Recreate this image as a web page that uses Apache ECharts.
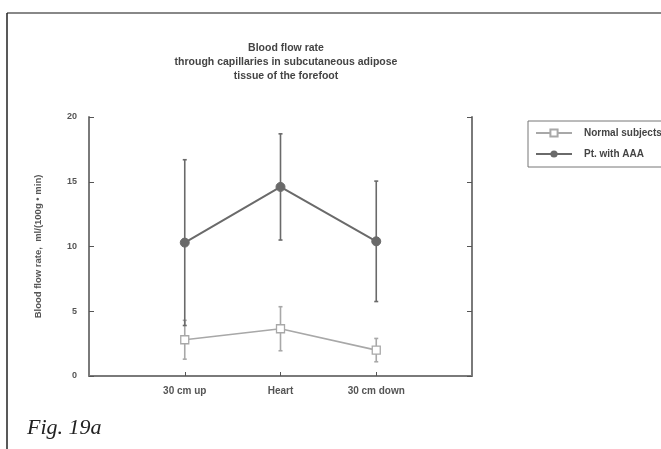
<!DOCTYPE html>
<html><head><meta charset="utf-8">
<script src="https://cdn.jsdelivr.net/npm/echarts@6/dist/echarts.min.js"></script>
<style>html,body{margin:0;padding:0;background:#fff}#c{width:661px;height:449px}</style>
</head><body><div id="c"></div>
<script>
const categories = ['30 cm up', 'Heart', '30 cm down'];
const normalMean = [2.8, 3.65, 2.0];
const normalErr = [1.5, 1.7, 0.9];
const aaaMean = [10.3, 14.6, 10.4];
const aaaErr = [6.4, 4.1, 4.65];
const yTicks = [0, 5, 10, 15, 20];
const seriesNames = ['Normal subjects', 'Pt. with AAA'];
const titleLines = ['Blood flow rate', 'through capillaries in subcutaneous adipose', 'tissue of the forefoot'];

const axisCats = [''].concat(categories, ['']);
const lightC = '#a8a8a8', darkC = '#6a6a6a', axisC = '#7a7a7a';

function errSeries(mean, err, color) {
  return {
    type: 'custom', silent: true, z: 1,
    data: mean.map((m, i) => [i + 1, m - err[i], m + err[i]]),
    renderItem: function (params, api) {
      const x = api.value(0);
      const lo = api.coord([x, api.value(1)]);
      const hi = api.coord([x, api.value(2)]);
      const w = 2;
      const st = { stroke: color, lineWidth: 1.6 };
      return { type: 'group', children: [
        { type: 'line', shape: { x1: lo[0], y1: lo[1], x2: hi[0], y2: hi[1] }, style: st },
        { type: 'line', shape: { x1: lo[0] - w, y1: lo[1], x2: lo[0] + w, y2: lo[1] }, style: st },
        { type: 'line', shape: { x1: hi[0] - w, y1: hi[1], x2: hi[0] + w, y2: hi[1] }, style: st }
      ]};
    }
  };
}

const chart = echarts.init(document.getElementById('c'));
chart.setOption({
  animation: false,
  title: {
    text: titleLines.join('\n'), left: 281, top: 36, textAlign: 'center',
    textStyle: { fontFamily: 'Liberation Sans', fontSize: 10.5, fontWeight: 'bold', color: '#444', lineHeight: 14 }
  },
  legend: {
    left: 528, top: 121, orient: 'vertical', itemGap: 11,
    padding: [7, 10, 8, 7], borderColor: '#777', borderWidth: 1,
    itemWidth: 36, itemHeight: 9,
    textStyle: { fontFamily: 'Liberation Sans', fontSize: 10, fontWeight: 'bold', color: '#444', padding: [0, 0, 0, 7] },
    data: seriesNames
  },
  grid: { left: 89, right: 189, top: 117, bottom: 73 },
  xAxis: {
    type: 'category', data: axisCats, boundaryGap: false,
    axisLine: { lineStyle: { color: axisC, width: 2 } },
    axisTick: { inside: true, length: 4, interval: (i, v) => v !== '', lineStyle: { color: '#555' } },
    axisLabel: { interval: 0, margin: 10, fontFamily: 'Liberation Sans', fontSize: 10, fontWeight: 'bold', color: '#555' },
    splitLine: { show: false }
  },
  yAxis: [{
    type: 'value', min: 0, max: 20, interval: 5, position: 'left',
    name: 'Blood flow rate,  ml/(100g • min)', nameLocation: 'middle', nameGap: 46,
    nameTextStyle: { fontFamily: 'Liberation Sans', fontSize: 9.5, fontWeight: 'bold', color: '#555' },
    axisLine: { show: true, lineStyle: { color: axisC, width: 2 } },
    axisTick: { show: true, inside: true, length: 5, lineStyle: { color: '#555' } },
    axisLabel: { margin: 12, fontFamily: 'Liberation Sans', fontSize: 9, fontWeight: 'bold', color: '#555',
      formatter: v => yTicks.includes(v) ? String(v) : '' },
    splitLine: { show: false }
  }, {
    type: 'value', min: 0, max: 20, interval: 5, position: 'right',
    axisLine: { show: true, lineStyle: { color: axisC, width: 2 } },
    axisTick: { show: true, inside: true, length: 5, lineStyle: { color: '#555' } },
    axisLabel: { show: false }, splitLine: { show: false }
  }],
  series: [
    errSeries(normalMean, normalErr, lightC),
    errSeries(aaaMean, aaaErr, darkC),
    {
      name: seriesNames[0], type: 'line', z: 3,
      data: normalMean.map((v, i) => [i + 1, v]),
      symbol: 'rect', symbolSize: 8,
      lineStyle: { color: lightC, width: 1.6 },
      itemStyle: { color: '#fff', borderColor: lightC, borderWidth: 1.3 }
    },
    {
      name: seriesNames[1], type: 'line', z: 3,
      data: aaaMean.map((v, i) => [i + 1, v]),
      symbol: 'circle', symbolSize: 9,
      lineStyle: { color: darkC, width: 2 },
      itemStyle: { color: darkC, borderColor: darkC }
    }
  ],
  graphic: [
    { type: 'line', shape: { x1: 7, y1: 13, x2: 661, y2: 13 }, style: { stroke: '#888', lineWidth: 2 } },
    { type: 'line', shape: { x1: 7, y1: 13, x2: 7, y2: 449 }, style: { stroke: '#222', lineWidth: 1.5 } },
    { type: 'text', left: 27, top: 417, style: { text: 'Fig. 19a', font: 'italic 22px "Liberation Serif"', fill: '#222' } }
  ]
});
</script></body></html>
